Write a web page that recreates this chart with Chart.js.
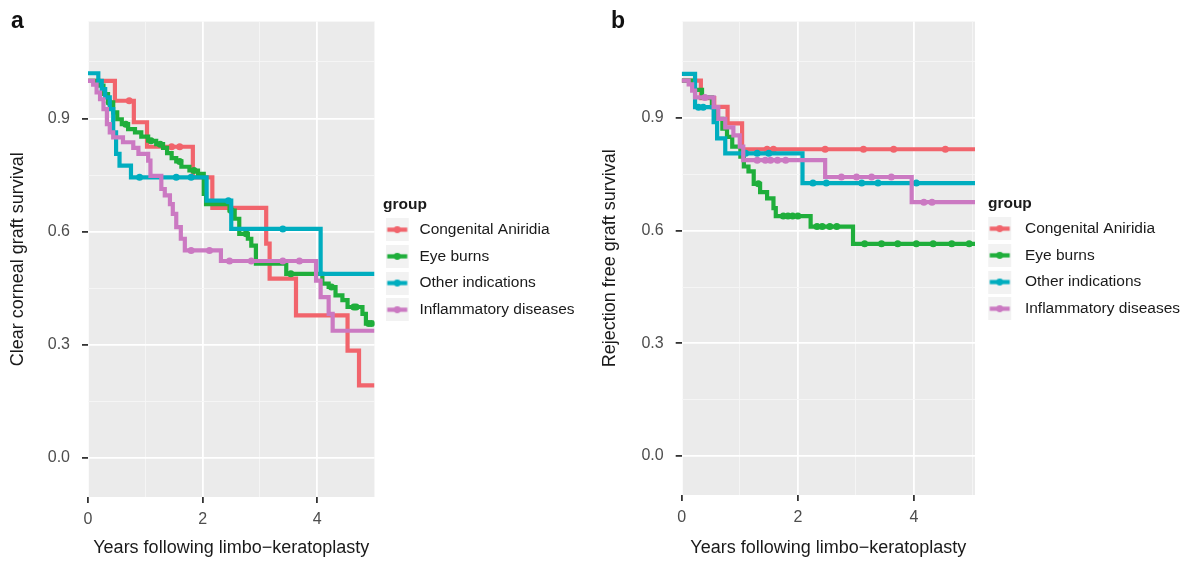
<!DOCTYPE html>
<html>
<head>
<meta charset="utf-8">
<script src="https://cdn.jsdelivr.net/npm/chart.js@4.4.1/dist/chart.umd.min.js"></script>
<style>
  html, body { margin: 0; padding: 0; background: #fff; }
  body { width: 1184px; height: 561px; position: relative; overflow: hidden; font-family: "Liberation Sans", Arial, sans-serif; }
  .panel { position: absolute; top: 0; height: 561px; }
  .tag { position: absolute; top: 7px; font-weight: bold; font-size: 23px; color: #111; }
</style>
</head>
<body>
<div class="panel" style="left:0;width:592px"><canvas id="chartA" width="592" height="561"></canvas></div>
<div class="panel" style="left:592px;width:598px"><canvas id="chartB" width="598" height="561"></canvas></div>
<div class="tag" style="left:11px">a</div>
<div class="tag" style="left:611px">b</div>
<script>
// groups, in legend order
const groups = ['Congenital Aniridia', 'Eye burns', 'Other indications', 'Inflammatory diseases'];
const groupColors = ['#F1646C', '#1FAE3B', '#00ADBF', '#CB79C2'];

// axis ticks
const xMajorTicks = [0, 2, 4];
const xMinorTicks = [1, 3, 5];
const yMajorTicks = [0, 0.3, 0.6, 0.9];
const yMinorTicks = [0.15, 0.45, 0.75, 1.05];

// panel a : clear corneal graft survival (event times, survival after event, censored times)
const aAniridiaT = [0, 0.47, 0.8, 1.03, 1.83, 2.17, 3.11, 3.17, 3.63, 4.53, 4.73];
const aAniridiaS = [1.0, 0.947, 0.89, 0.825, 0.744, 0.663, 0.568, 0.475, 0.378, 0.284, 0.192];
const aAniridiaC = [0.72, 1.46, 1.6];

const aBurnsT = [0, 0.18, 0.27, 0.35, 0.44, 0.51, 0.59, 0.7, 0.82, 0.93, 1.05, 1.19, 1.31, 1.38, 1.46, 1.54, 1.63, 1.77, 1.92, 2.02, 2.06, 2.47, 2.56, 2.64, 2.79, 2.85, 2.93, 3.46, 4.09, 4.2, 4.32, 4.44, 4.53, 4.79, 4.85];
const aBurnsS = [1.0, 0.987, 0.965, 0.943, 0.916, 0.898, 0.885, 0.872, 0.863, 0.852, 0.841, 0.832, 0.822, 0.808, 0.795, 0.786, 0.772, 0.762, 0.753, 0.7, 0.673, 0.656, 0.634, 0.594, 0.581, 0.563, 0.515, 0.488, 0.462, 0.453, 0.431, 0.418, 0.4, 0.382, 0.356];
const aBurnsC = [0.37, 0.66, 1.1, 1.26, 1.6, 1.85, 2.5, 2.76, 3.54, 4.25, 4.64, 4.68, 4.9, 4.95];

const aOtherT = [0, 0.18, 0.24, 0.3, 0.38, 0.44, 0.49, 0.55, 0.75, 2.07, 2.5, 4.06];
const aOtherS = [1.02, 1.0, 0.978, 0.956, 0.925, 0.863, 0.806, 0.775, 0.744, 0.682, 0.607, 0.488];
const aOtherC = [0.9, 1.54, 1.8, 2.45, 3.4];

const aInflamT = [0, 0.09, 0.15, 0.21, 0.27, 0.33, 0.38, 0.44, 0.61, 0.79, 0.88, 1.05, 1.09, 1.28, 1.34, 1.43, 1.48, 1.54, 1.62, 1.69, 2.32, 3.98, 4.06, 4.2, 4.27];
const aInflamS = [1.0, 0.99, 0.969, 0.951, 0.925, 0.885, 0.863, 0.85, 0.837, 0.822, 0.806, 0.788, 0.748, 0.713, 0.696, 0.673, 0.647, 0.612, 0.581, 0.55, 0.522, 0.47, 0.426, 0.382, 0.337];
const aInflamC = [1.8, 2.12, 2.47, 2.85, 3.4, 3.69];

// panel b : rejection free graft survival
const bAniridiaT = [0, 0.33, 0.56, 0.79, 1.04];
const bAniridiaS = [1.0, 0.953, 0.93, 0.886, 0.817];
const bAniridiaC = [1.47, 1.58, 2.47, 3.13, 3.65, 4.54];

const bBurnsT = [0, 0.2, 0.35, 0.52, 0.61, 0.7, 0.78, 0.87, 1.01, 1.07, 1.15, 1.24, 1.35, 1.47, 1.58, 1.62, 2.22, 2.95];
const bBurnsS = [1.0, 0.975, 0.955, 0.929, 0.898, 0.872, 0.85, 0.824, 0.797, 0.771, 0.758, 0.725, 0.703, 0.686, 0.66, 0.639, 0.611, 0.565];
const bBurnsC = [1.32, 1.75, 1.83, 1.91, 2.0, 2.33, 2.42, 2.55, 2.67, 3.15, 3.44, 3.72, 4.04, 4.33, 4.65, 4.95];

const bOtherT = [0, 0.23, 0.55, 0.61, 0.75, 2.08];
const bOtherS = [1.018, 0.929, 0.889, 0.846, 0.806, 0.727];
const bOtherC = [0.29, 0.37, 1.1, 1.3, 1.5, 2.26, 2.49, 3.1, 3.38, 4.04];

const bInflamT = [0, 0.12, 0.18, 0.23, 0.55, 0.63, 0.75, 0.89, 1.0, 1.06, 2.47, 3.96];
const bInflamS = [1.0, 0.99, 0.973, 0.955, 0.929, 0.898, 0.875, 0.854, 0.824, 0.788, 0.743, 0.676];
const bInflamC = [0.4, 1.3, 1.44, 1.53, 1.65, 1.79, 2.75, 3.01, 3.27, 3.61, 4.17, 4.31];

const fontFamily = "'Liberation Sans', Arial, sans-serif";
Chart.defaults.font.family = fontFamily;

// step points + censor marks (censor y = current survival level)
function kmPoints(T, S, C, end) {
    var pts = T.map((t, i) => ({ x: t, y: S[i], c: false }));
    C.forEach(t => {
        var s = S[0];
        T.forEach((tt, i) => { if (tt <= t) s = S[i]; });
        pts.push({ x: t, y: s, c: true });
    });
    pts.push({ x: end, y: S[S.length - 1], c: false });
    pts.sort((p, q) => p.x - q.x);
    return pts;
}

// grey legend key with line and dot
function keyIcon(color, width, offset) {
    var c = document.createElement('canvas');
    c.width = width; c.height = 23;
    var g = c.getContext('2d');
    g.fillStyle = '#F2F2F2';
    g.fillRect(offset, 0, 23, 23);
    g.strokeStyle = color;
    g.lineWidth = 4.2;
    g.beginPath(); g.moveTo(offset + 1.5, 11.5); g.lineTo(offset + 21.5, 11.5); g.stroke();
    g.fillStyle = color;
    g.beginPath(); g.arc(offset + 11.5, 11.5, 3.4, 0, Math.PI * 2); g.fill();
    return c;
}

const panelBackground = {
    id: 'panelBackground',
    beforeDraw(chart) {
        const { ctx, chartArea: a } = chart;
        ctx.save();
        ctx.fillStyle = '#EBEBEB';
        ctx.fillRect(a.left, a.top, a.width, a.height);
        ctx.restore();
    }
};

function isMajor(list, v) {
    return list.some(m => Math.abs(m - v) < 1e-6);
}

function buildChart(id, series, cfg) {
    const ctx = document.getElementById(id).getContext('2d');
    return new Chart(ctx, {
        type: 'line',
        data: {
            datasets: series.map((s, i) => ({
                label: groups[i],
                data: kmPoints(s[0], s[1], s[2], cfg.xMax),
                borderColor: groupColors[i],
                backgroundColor: groupColors[i],
                borderWidth: 4.2,
                stepped: true,
                fill: false,
                pointRadius: c => (c.raw && c.raw.c) ? 3.5 : 0,
                pointHoverRadius: 0,
                pointBorderWidth: 0,
                order: series.length - i
            }))
        },
        options: {
            responsive: false,
            animation: false,
            events: [],
            layout: { padding: { top: cfg.top, right: cfg.right, left: 0, bottom: 0 } },
            plugins: {
                tooltip: { enabled: false },
                legend: {
                    position: 'right',
                    align: 'center',
                    fullSize: false,
                    maxWidth: 260,
                    title: {
                        display: true,
                        text: cfg.legendTitle,
                        position: 'start',
                        color: '#1a1a1a',
                        font: { family: fontFamily, size: 15.5, weight: 'bold' },
                        padding: { top: 7, bottom: -4.8 }
                    },
                    labels: {
                        usePointStyle: true,
                        pointStyleWidth: cfg.keyWidth,
                        padding: 11.2,
                        color: '#1a1a1a',
                        font: { family: fontFamily, size: 15.5 },
                        generateLabels: chart => chart.data.datasets.map((ds, i) => ({
                            text: ds.label,
                            pointStyle: keyIcon(ds.borderColor, cfg.keyWidth, cfg.keyOffset),
                            fillStyle: ds.borderColor,
                            strokeStyle: ds.borderColor,
                            lineWidth: 0,
                            hidden: false,
                            datasetIndex: i,
                            fontColor: '#1a1a1a'
                        }))
                    }
                }
            },
            scales: {
                x: {
                    type: 'linear',
                    min: 0,
                    max: cfg.xMax,
                    afterBuildTicks: s => {
                        s.ticks = xMajorTicks.concat(xMinorTicks).filter(v => v <= cfg.xMax).sort((p, q) => p - q).map(v => ({ value: v }));
                    },
                    afterFit: s => { s.height = cfg.xAxisHeight; },
                    ticks: {
                        autoSkip: false,
                        maxRotation: 0,
                        padding: 7,
                        color: '#4d4d4d',
                        font: { size: 16 },
                        callback: v => isMajor(xMajorTicks, v) ? String(v) : ''
                    },
                    grid: {
                        color: c => (c.tick && isMajor(xMajorTicks, c.tick.value)) ? '#ffffff' : '#f6f6f6',
                        lineWidth: c => (c.tick && isMajor(xMajorTicks, c.tick.value)) ? 1.8 : 0.9,
                        tickColor: c => (c.tick && isMajor(xMajorTicks, c.tick.value)) ? '#333333' : 'rgba(0,0,0,0)',
                        tickLength: 6
                    },
                    border: { display: false },
                    title: {
                        display: true,
                        text: 'Years following limbo\u2212keratoplasty',
                        color: '#1a1a1a',
                        font: { size: 18 },
                        padding: { top: 0, bottom: 2 }
                    }
                },
                y: {
                    type: 'linear',
                    min: -0.104,
                    max: 1.157,
                    afterBuildTicks: s => {
                        s.ticks = yMajorTicks.concat(yMinorTicks).sort((p, q) => p - q).map(v => ({ value: v }));
                    },
                    afterFit: s => { s.width = cfg.yAxisWidth; },
                    ticks: {
                        autoSkip: false,
                        padding: 12,
                        color: '#4d4d4d',
                        font: { size: 16 },
                        callback: v => isMajor(yMajorTicks, v) ? v.toFixed(1) : ''
                    },
                    grid: {
                        color: c => (c.tick && isMajor(yMajorTicks, c.tick.value)) ? '#ffffff' : '#f6f6f6',
                        lineWidth: c => (c.tick && isMajor(yMajorTicks, c.tick.value)) ? 1.8 : 0.9,
                        tickColor: c => (c.tick && isMajor(yMajorTicks, c.tick.value)) ? '#333333' : 'rgba(0,0,0,0)',
                        tickLength: 6
                    },
                    border: { display: false },
                    title: {
                        display: true,
                        text: cfg.yTitle,
                        color: '#1a1a1a',
                        font: { size: 18 },
                        padding: { top: 7, bottom: 0 }
                    }
                }
            }
        },
        plugins: [panelBackground]
    });
}

buildChart('chartA', [
    [aAniridiaT, aAniridiaS, aAniridiaC],
    [aBurnsT, aBurnsS, aBurnsC],
    [aOtherT, aOtherS, aOtherC],
    [aInflamT, aInflamS, aInflamC]
], { xMax: 5, top: 20, right: 7.5, xAxisHeight: 64, yAxisWidth: 88, keyWidth: 26, keyOffset: 0,
     legendTitle: '  group', yTitle: 'Clear corneal graft survival' });

buildChart('chartB', [
    [bAniridiaT, bAniridiaS, bAniridiaC],
    [bBurnsT, bBurnsS, bBurnsC],
    [bOtherT, bOtherS, bOtherC],
    [bInflamT, bInflamS, bInflamC]
], { xMax: 5.05, top: 17, right: 0, xAxisHeight: 66, yAxisWidth: 89.7, keyWidth: 31, keyOffset: 2,
     legendTitle: '   group', yTitle: 'Rejection free graft survival' });
</script>
</body>
</html>
